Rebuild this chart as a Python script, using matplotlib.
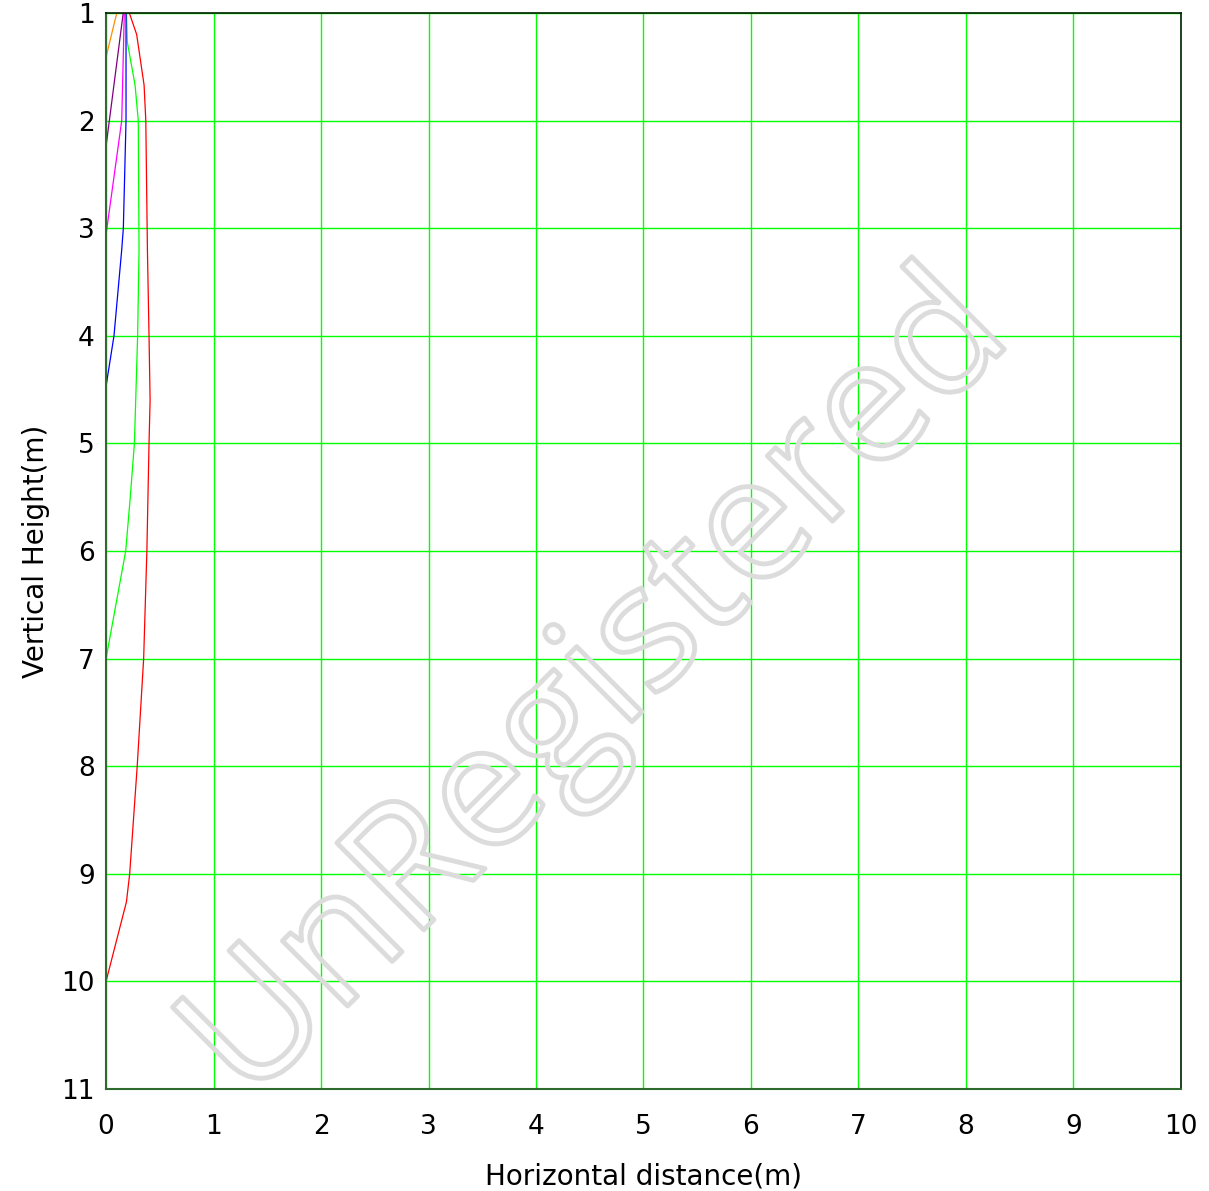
import matplotlib.pyplot as plt
from matplotlib import patheffects

# trajectory data
red_x = [0, 0.19, 0.22, 0.29, 0.35, 0.38, 0.40, 0.41, 0.40, 0.385, 0.37, 0.354, 0.285, 0.217]
red_y = [10, 9.26, 9.0, 8.0, 7.0, 6.0, 5.0, 4.6, 4.0, 3.2, 2.0, 1.67, 1.2, 1.0]
green_x = [0, 0.183, 0.223, 0.264, 0.294, 0.307, 0.30, 0.27, 0.198, 0.19]
green_y = [7.0, 6.0, 5.53, 5.0, 4.0, 3.2, 2.0, 1.67, 1.27, 1.0]
blue_x = [0, 0.074, 0.146, 0.161, 0.186, 0.186]
blue_y = [4.47, 4.0, 3.2, 3.0, 2.0, 1.0]
magenta_x = [0, 0.146, 0.17]
magenta_y = [3.06, 2.0, 1.0]
purple_x = [0, 0.16]
purple_y = [2.24, 1.0]
orange_x = [0, 0.1]
orange_y = [1.41, 1.0]

x_ticks = list(range(0, 11))
y_ticks = list(range(1, 12))

fig = plt.figure(figsize=(12.09, 11.91), dpi=100)
ax = fig.add_axes([0.0877, 0.0856, 0.8891, 0.9035])

ax.plot(red_x, red_y, color='#ff0000', lw=0.9)
ax.plot(green_x, green_y, color='#00ff00', lw=0.9)
ax.plot(blue_x, blue_y, color='#0000ff', lw=0.9)
ax.plot(magenta_x, magenta_y, color='#ff00ff', lw=0.9)
ax.plot(purple_x, purple_y, color='#800080', lw=0.9)
ax.plot(orange_x, orange_y, color='#ff8c00', lw=0.9)

ax.set_xlim(0, 10)
ax.set_ylim(11, 1)
ax.set_xticks(x_ticks)
ax.set_yticks(y_ticks)
ax.grid(True, color='#00ff00', lw=1.0)
ax.set_axisbelow(True)
ax.tick_params(length=0, labelsize=19)
ax.tick_params(axis='x', pad=18)
ax.tick_params(axis='y', pad=8)

for s in ['left', 'bottom']:
    ax.spines[s].set_color('#2e6b2e')
    ax.spines[s].set_linewidth(1.5)
for s in ['top', 'right']:
    ax.spines[s].set_color('#002000')
    ax.spines[s].set_linewidth(1.2)

ax.set_xlabel('Horizontal distance(m)', fontsize=20, labelpad=16)
ax.set_ylabel('Vertical Height(m)', fontsize=20, labelpad=8)

# hollow watermark
fig.text(600 / 1209, 1 - 690 / 1191, 'UnRegistered', fontsize=124, rotation=45,
         family='Open Sans', ha='center', va='center', color=(1, 1, 1, 0),
         path_effects=[patheffects.Stroke(linewidth=3.5, foreground='#dcdcdc')])

fig.savefig('out.png', dpi=100)
